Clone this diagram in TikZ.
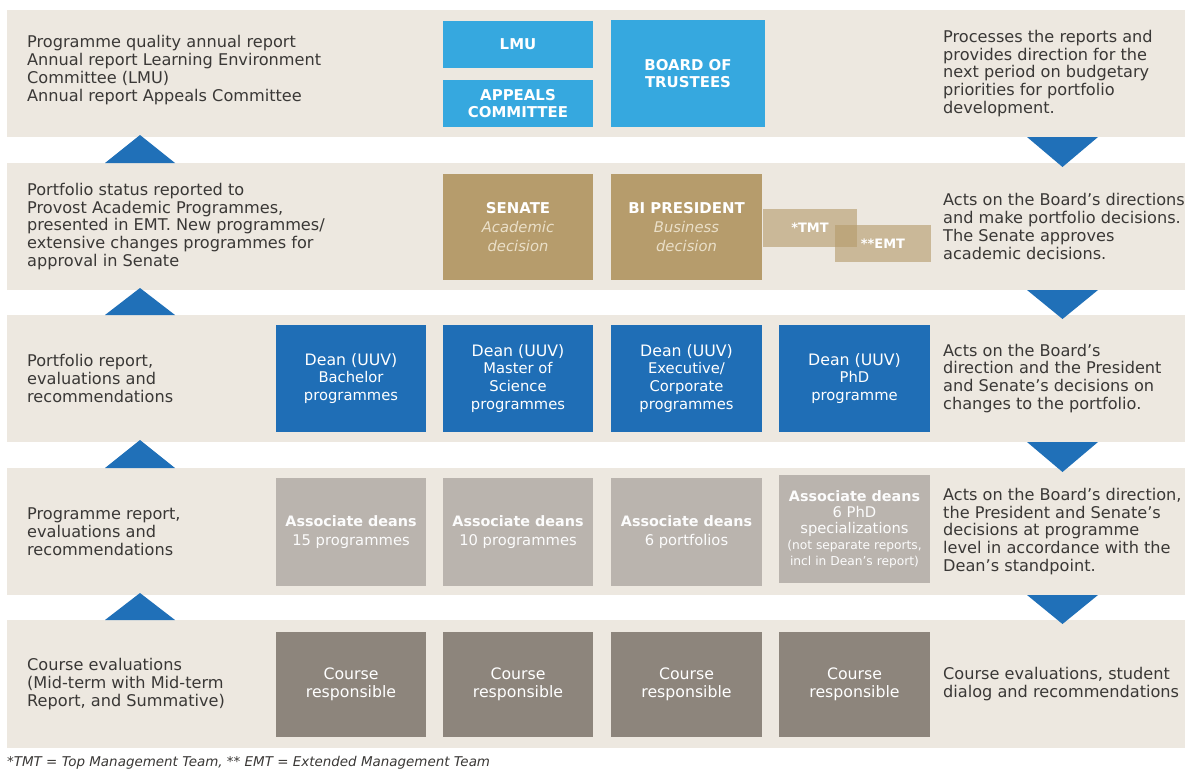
\documentclass[tikz,border=0pt]{standalone}
\usepackage{fontspec}
\setmainfont{DejaVu Sans}
\definecolor{bandc}{HTML}{EDE8E0}
\definecolor{skyc}{HTML}{36A8DF}
\definecolor{deanc}{HTML}{1F6EB6}
\definecolor{goldc}{HTML}{B69C6C}
\definecolor{creamc}{HTML}{EADFC8}
\definecolor{assocc}{HTML}{BAB4AE}
\definecolor{coursec}{HTML}{8D857C}
\definecolor{arrowc}{HTML}{2070B8}
\definecolor{inkc}{HTML}{3A3836}
\newcommand\sidefont{\fontsize{16.2}{18}\selectfont}
\newcommand\capsfont{\bfseries\fontsize{15}{17.5}\selectfont}
\newcommand\titlefont{\fontsize{15.8}{18}\selectfont}
\newcommand\subfont{\fontsize{14.8}{17.5}\selectfont}
\newcommand\assocfont{\bfseries\fontsize{14.4}{17.5}\selectfont}
\newcommand\decfont{\color{creamc}\itshape\fontsize{14.8}{17.5}\selectfont}
\newcommand\tinyfont{\fontsize{12.3}{14.5}\selectfont}
\begin{document}
\begin{tikzpicture}[x=1bp,y=-1bp,
  band/.style={fill=bandc,draw=none,inner sep=0pt,minimum width=1180bp,minimum height=127bp},
  sidetext/.style={anchor=west,align=left,inner sep=0pt,text=inkc,font=\sidefont},
  box/.style={inner sep=0pt,align=center,text=white,draw=none},
  skybox/.style={box,fill=skyc,font=\capsfont},
  goldbox/.style={box,fill=goldc,minimum width=150bp,minimum height=106bp,font=\fontsize{14.8}{19.5}\selectfont},
  teambox/.style={box,fill=goldc,fill opacity=0.62,text opacity=1,font=\bfseries\fontsize{13}{15}\selectfont},
  deanbox/.style={box,fill=deanc,minimum width=150bp,minimum height=107bp,font=\fontsize{14.8}{18}\selectfont},
  assocbox/.style={box,fill=assocc,text=white!96!assocc,minimum width=150bp,minimum height=108bp,font=\fontsize{14.8}{18.5}\selectfont},
  coursebox/.style={box,fill=coursec,minimum width=150bp,minimum height=105bp,font=\titlefont},
  flowtri/.style={fill=arrowc}
]
\useasboundingbox (0,0) rectangle (1185,774);
\fill[white] (0,0) rectangle (1185,774);

% horizontal bands, one per level
\node[band] (b1) at (597,73.5) {};
\node[band] (b2) at (597,226.5) {};
\node[band] (b3) at (597,378.5) {};
\node[band] (b4) at (597,531.5) {};
\node[band,minimum height=128bp] (b5) at (597,684) {};

% upward flow markers on the left
\fill[flowtri] (105,163) -- (175,163) -- (140,135) -- cycle;
\fill[flowtri] (105,315) -- (175,315) -- (140,288) -- cycle;
\fill[flowtri] (105,468) -- (175,468) -- (140,440) -- cycle;
\fill[flowtri] (105,620) -- (175,620) -- (140,593) -- cycle;

% downward flow markers on the right
\fill[flowtri] (1027,137) -- (1098,137) -- (1062.5,167) -- cycle;
\fill[flowtri] (1027,290) -- (1098,290) -- (1062.5,319) -- cycle;
\fill[flowtri] (1027,442) -- (1098,442) -- (1062.5,472) -- cycle;
\fill[flowtri] (1027,595) -- (1098,595) -- (1062.5,624) -- cycle;

% level 1: board
\node[skybox,minimum width=150bp,minimum height=47bp] (lmu) at (518,44.5) {LMU};
\node[skybox,minimum width=150bp,minimum height=47bp] (appeals) at (518,103.5) {APPEALS\\COMMITTEE};
\node[skybox,minimum width=154bp,minimum height=106bp] (board) at (688,73.5) {BOARD OF\\TRUSTEES};

% level 2: senate and president
\node[goldbox] (senate) at (518,227) {{\capsfont SENATE}\\{\decfont Academic}\\{\decfont decision}};
\node[goldbox,minimum width=151bp] (president) at (686.5,227) {{\capsfont BI PRESIDENT}\\{\decfont Business}\\{\decfont decision}};
\node[teambox,minimum width=94bp,minimum height=38bp] (tmt) at (810,228) {*TMT};
\node[teambox,minimum width=96bp,minimum height=37bp] (emt) at (883,243.5) {**EMT};

% level 3: deans
\node[deanbox] (dean1) at (351,378.5) {{\titlefont Dean (UUV)}\\{\subfont Bachelor}\\{\subfont programmes}};
\node[deanbox] (dean2) at (518,378.5) {{\titlefont Dean (UUV)}\\{\subfont Master of}\\{\subfont Science}\\{\subfont programmes}};
\node[deanbox,minimum width=151bp] (dean3) at (686.5,378.5) {{\titlefont Dean (UUV)}\\{\subfont Executive/}\\{\subfont Corporate}\\{\subfont programmes}};
\node[deanbox,minimum width=151bp] (dean4) at (854.5,378.5) {{\titlefont Dean (UUV)}\\{\subfont PhD}\\{\subfont programme}};

% level 4: associate deans
\node[assocbox] (assoc1) at (351,532) {{\assocfont Associate deans}\\{\subfont 15 programmes}};
\node[assocbox] (assoc2) at (518,532) {{\assocfont Associate deans}\\{\subfont 10 programmes}};
\node[assocbox,minimum width=151bp] (assoc3) at (686.5,532) {{\assocfont Associate deans}\\{\subfont 6 portfolios}};
\node[assocbox,minimum width=151bp,font=\fontsize{14.8}{15.5}\selectfont] (assoc4) at (854.5,529) {{\assocfont Associate deans}\\[1bp]{\subfont 6 PhD}\\{\subfont specializations}\\[1bp]{\tinyfont (not separate reports,}\\{\tinyfont incl in Dean’s report)}};

% level 5: course responsible
\node[coursebox] (course1) at (351,684.5) {Course\\responsible};
\node[coursebox] (course2) at (518,684.5) {Course\\responsible};
\node[coursebox,minimum width=151bp] (course3) at (686.5,684.5) {Course\\responsible};
\node[coursebox,minimum width=151bp] (course4) at (854.5,684.5) {Course\\responsible};

% reports flowing upwards (left column)
\node[sidetext] (l1) at (27,70) {Programme quality annual report\\Annual report Learning Environment\\Committee (LMU)\\Annual report Appeals Committee};
\node[sidetext] (l2) at (27,226.5) {Portfolio status reported to\\Provost Academic Programmes,\\presented in EMT. New programmes/\\extensive changes programmes for\\approval in Senate};
\node[sidetext] (l3) at (27,378.5) {Portfolio report,\\evaluations and\\recommendations};
\node[sidetext] (l4) at (27,531.5) {Programme report,\\evaluations and\\recommendations};
\node[sidetext] (l5) at (27,684) {Course evaluations\\(Mid-term with Mid-term\\Report, and Summative)};

% decisions flowing downwards (right column)
\node[sidetext] (r1) at (943,73.5) {Processes the reports and\\provides direction for the\\next period on budgetary\\priorities for portfolio\\development.};
\node[sidetext] (r2) at (943,226.5) {Acts on the Board’s directions\\and make portfolio decisions.\\The Senate approves\\academic decisions.};
\node[sidetext] (r3) at (943,378.5) {Acts on the Board’s\\direction and the President\\and Senate’s decisions on\\changes to the portfolio.};
\node[sidetext] (r4) at (943,531.5) {Acts on the Board’s direction,\\the President and Senate’s\\decisions at programme\\level in accordance with the\\Dean’s standpoint.};
\node[sidetext] (r5) at (943,684) {Course evaluations, student\\dialog and recommendations};

% footnote
\node[anchor=west,inner sep=0pt,text=inkc,font=\itshape\fontsize{13.5}{15}\selectfont] (note) at (7,763) {*TMT = Top Management Team, ** EMT = Extended Management Team};
\end{tikzpicture}
\end{document}
